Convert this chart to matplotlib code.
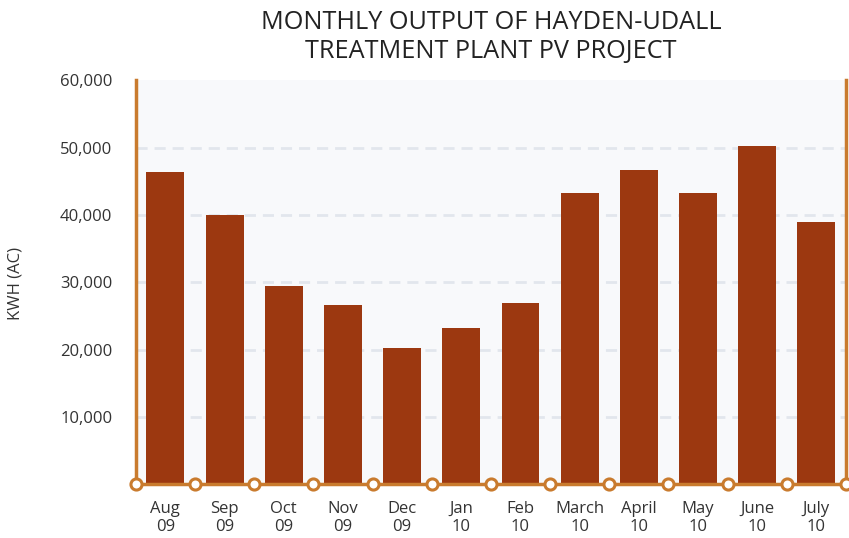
import matplotlib
matplotlib.use("Agg")
import matplotlib.pyplot as plt
import numpy as np

months = ["Aug\n09", "Sep\n09", "Oct\n09", "Nov\n09", "Dec\n09", "Jan\n10", "Feb\n10",
          "March\n10", "April\n10", "May\n10", "June\n10", "July\n10"]
kwh = [46300, 40000, 29500, 26600, 20200, 23200, 26900, 43300, 46600, 43300, 50200, 38900]
yticks = [10000, 20000, 30000, 40000, 50000, 60000]

plt.rcParams['font.family'] = ['Open Sans', 'DejaVu Sans']

orange = "#c97b2e"
bar_color = "#9c3810"
text_color = "#333333"

fig = plt.figure(figsize=(8.49, 5.38), dpi=100)
ax = fig.add_axes([0.160, 0.100, 0.8365, 0.751])
ax.set_facecolor("#f8f9fb")

n = len(months)
x = np.arange(n) + 0.5
ax.bar(x, kwh, width=0.64, color=bar_color, zorder=3)

ax.set_xlim(0, n)
ax.set_ylim(0, 60000)

for v in yticks[:-1]:
    ax.axhline(v, color="#e2e6ed", lw=2, ls=(0, (4, 2.5)), zorder=1)

ax.set_yticks(yticks)
ax.set_yticklabels([f"{v:,}" for v in yticks], fontsize=12, color=text_color)
ax.set_xticks(x)
ax.set_xticklabels(months, fontsize=12, color=text_color, linespacing=1.2)
ax.tick_params(axis="both", length=0)
ax.tick_params(axis="y", pad=17)
ax.tick_params(axis="x", pad=12)

ax.spines["top"].set_visible(False)
for s in ["left", "right", "bottom"]:
    ax.spines[s].set_color(orange)
    ax.spines[s].set_linewidth(2.5)
    ax.spines[s].set_zorder(4)

bounds = np.arange(n + 1)
ax.plot(bounds, np.zeros(n + 1), ls="none", marker="o", ms=8, mfc="white",
        mec=orange, mew=2.2, clip_on=False, zorder=5)

fig.text(15 / 849, 1 - 283 / 538, "KWH (AC)", rotation=90, fontsize=12,
         color=text_color, ha="center", va="center")
fig.text(491 / 849, 1 - 37 / 538, "MONTHLY OUTPUT OF HAYDEN-UDALL\nTREATMENT PLANT PV PROJECT",
         fontsize=18.2, color="#222222", ha="center", va="center", linespacing=1.2)

fig.savefig("out.png", dpi=100)
